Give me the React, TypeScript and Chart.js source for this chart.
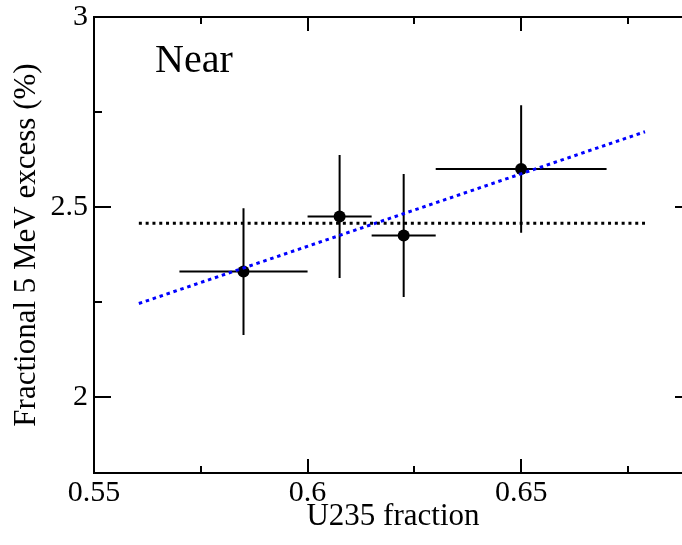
import React, { useEffect, useRef } from 'react';
import { Chart, registerables } from 'chart.js';

Chart.register(...registerables);

// ---- data ----
const xValues = [0.585, 0.6075, 0.6225, 0.65];
const yValues = [2.33, 2.475, 2.425, 2.6];
const xErrors = [0.015, 0.0075, 0.0075, 0.02];
const yErrors = [0.167, 0.162, 0.162, 0.168];

const flatFitX = [0.5605, 0.679];
const flatFitY = [2.457, 2.457];
const slopeFitX = [0.5605, 0.679];
const slopeFitY = [2.246, 2.698];

const xTickValues = [0.55, 0.6, 0.65];
const xTickLabels = ['0.55', '0.6', '0.65'];
const xMinorTicks = [0.575, 0.625, 0.675];
const yTickValues = [2, 2.5, 3];
const yTickLabels = ['2', '2.5', '3'];
const yMinorTicks = [2.25, 2.75];

const X_MIN = 0.55;
const X_MAX = 0.69;
const Y_MIN = 1.8;
const Y_MAX = 3;

const FONT = "'Liberation Serif', 'Times New Roman', serif";

const labelFor = (vals: number[], labels: string[]) => (v: any) => {
  const i = vals.findIndex((t) => Math.abs(t - Number(v)) < 1e-9);
  return i >= 0 ? labels[i] : '';
};

const decorPlugin = {
  id: 'decor',
  beforeDatasetsDraw(chart: any) {
    const { ctx, scales } = chart;
    const xs = scales.x;
    const ys = scales.y;
    ctx.save();
    ctx.strokeStyle = '#000';
    ctx.lineWidth = 2;
    for (let i = 0; i < xValues.length; i++) {
      const px = xs.getPixelForValue(xValues[i]);
      const py = ys.getPixelForValue(yValues[i]);
      const xl = xs.getPixelForValue(xValues[i] - xErrors[i]);
      const xr = xs.getPixelForValue(xValues[i] + xErrors[i]);
      const yt = ys.getPixelForValue(yValues[i] + yErrors[i]);
      const yb = ys.getPixelForValue(yValues[i] - yErrors[i]);
      ctx.beginPath();
      ctx.moveTo(xl, py);
      ctx.lineTo(xr, py);
      ctx.moveTo(px, yt);
      ctx.lineTo(px, yb);
      ctx.stroke();
    }
    ctx.restore();
  },
  afterDraw(chart: any) {
    const { ctx, scales } = chart;
    const xs = scales.x;
    const ys = scales.y;
    const left = xs.getPixelForValue(X_MIN);
    const right = xs.getPixelForValue(X_MAX);
    const top = ys.getPixelForValue(Y_MAX);
    const bottom = ys.getPixelForValue(Y_MIN);
    ctx.save();
    ctx.strokeStyle = '#000';
    ctx.lineWidth = 2;
    ctx.strokeRect(left, top, right - left, bottom - top);
    ctx.beginPath();
    const xTick = (v: number, len: number) => {
      const p = Math.round(xs.getPixelForValue(v));
      ctx.moveTo(p, bottom);
      ctx.lineTo(p, bottom - len);
      ctx.moveTo(p, top);
      ctx.lineTo(p, top + len);
    };
    const yTick = (v: number, len: number) => {
      const p = Math.round(ys.getPixelForValue(v));
      ctx.moveTo(left, p);
      ctx.lineTo(left + len, p);
      ctx.moveTo(right, p);
      ctx.lineTo(right - len, p);
    };
    xTickValues.forEach((v) => xTick(v, 14));
    xMinorTicks.forEach((v) => xTick(v, 7));
    yTickValues.forEach((v) => yTick(v, 17));
    yMinorTicks.forEach((v) => yTick(v, 8));
    ctx.stroke();

    ctx.fillStyle = '#000';
    ctx.font = `40px ${FONT}`;
    ctx.textAlign = 'left';
    ctx.textBaseline = 'alphabetic';
    ctx.fillText('Near', left + 61, top + 55);
    ctx.restore();
  },
};

export default function App() {
  const ref = useRef<HTMLCanvasElement | null>(null);

  useEffect(() => {
    if (!ref.current) return;
    const chart = new Chart(ref.current, {
      type: 'scatter',
      data: {
        datasets: [
          {
            data: flatFitX.map((x, i) => ({ x, y: flatFitY[i] })),
            showLine: true,
            borderColor: '#000',
            borderWidth: 3,
            borderDash: [3, 3.8],
            pointRadius: 0,
          },
          {
            data: slopeFitX.map((x, i) => ({ x, y: slopeFitY[i] })),
            showLine: true,
            borderColor: '#0000ff',
            borderWidth: 3,
            borderDash: [3.5, 3.8],
            pointRadius: 0,
          },
          {
            data: xValues.map((x, i) => ({ x, y: yValues[i] })),
            showLine: false,
            pointRadius: 6,
            pointBackgroundColor: '#000',
            pointBorderColor: '#000',
            pointBorderWidth: 0,
          },
        ],
      } as any,
      options: {
        animation: false,
        responsive: false,
        layout: { padding: { top: 17, right: 28, left: 0, bottom: 0 } },
        plugins: { legend: { display: false }, tooltip: { enabled: false } },
        scales: {
          x: {
            type: 'linear',
            min: X_MIN,
            max: X_MAX,
            grid: { display: false, drawTicks: false },
            border: { display: false },
            afterBuildTicks: (s: any) => {
              s.ticks = xTickValues.map((v) => ({ value: v }));
            },
            afterFit: (s: any) => {
              s.height = 72;
              s.paddingLeft = 0;
              s.paddingRight = 0;
            },
            ticks: {
              font: { family: FONT, size: 30 },
              color: '#000',
              padding: 2,
              maxRotation: 0,
              autoSkip: false,
              callback: labelFor(xTickValues, xTickLabels),
            },
            title: {
              display: true,
              text: 'U235 fraction',
              font: { family: FONT, size: 31 },
              color: '#000',
              padding: { top: 0, bottom: 10 },
            },
          },
          y: {
            type: 'linear',
            min: Y_MIN,
            max: Y_MAX,
            grid: { display: false, drawTicks: false },
            border: { display: false },
            afterBuildTicks: (s: any) => {
              s.ticks = yTickValues.map((v) => ({ value: v }));
            },
            afterFit: (s: any) => {
              s.width = 94;
              s.paddingTop = 0;
              s.paddingBottom = 0;
            },
            ticks: {
              font: { family: FONT, size: 30 },
              color: '#000',
              padding: 6,
              autoSkip: false,
              callback: labelFor(yTickValues, yTickLabels),
            },
            title: {
              display: true,
              text: 'Fractional 5 MeV excess (%)',
              font: { family: FONT, size: 31 },
              color: '#000',
              padding: { top: 8, bottom: 0 },
            },
          },
        },
      } as any,
      plugins: [decorPlugin],
    });
    return () => chart.destroy();
  }, []);

  return (
    <div
      style={{
        position: 'fixed',
        left: 0,
        top: 0,
        width: 682,
        height: 545,
        overflow: 'hidden',
        background: '#fff',
      }}
    >
      <canvas ref={ref} width={720} height={545} style={{ display: 'block' }} />
    </div>
  );
}
